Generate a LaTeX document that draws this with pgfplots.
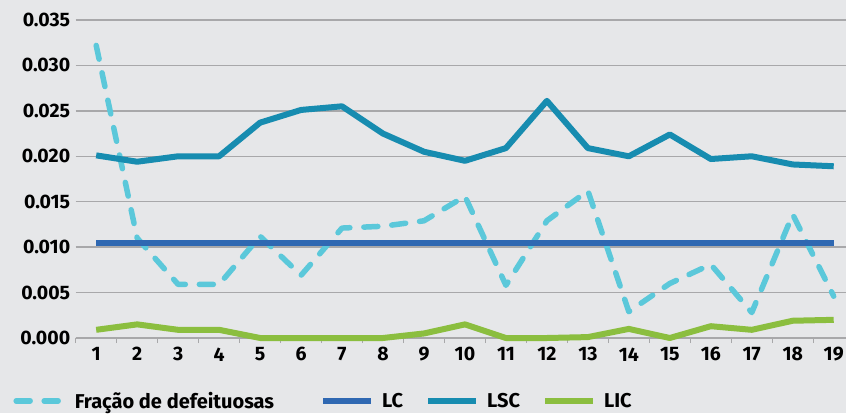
\documentclass[border=0pt]{standalone}
\usepackage{pgfplots}
\pgfplotsset{compat=1.18}
\usepackage{fontspec}
\setmainfont{Fira Sans}[UprightFont=* Bold]
\definecolor{bg}{HTML}{E6E7E9}
\definecolor{gridc}{HTML}{A8A8AA}
\definecolor{fracc}{HTML}{5BC8DA}
\definecolor{lcc}{HTML}{2F68B2}
\definecolor{lscc}{HTML}{178CB0}
\definecolor{licc}{HTML}{8BBE3F}

\pgfplotstableread{
x  frac    lc      lsc     lic
1  0.0322  0.0105  0.0201  0.0009
2  0.0110  0.0105  0.0194  0.0015
3  0.0059  0.0105  0.0200  0.0009
4  0.0059  0.0105  0.0200  0.0009
5  0.0112  0.0105  0.0237  0.0000
6  0.0069  0.0105  0.0251  0.0000
7  0.0121  0.0105  0.0255  0.0000
8  0.0123  0.0105  0.0225  0.0000
9  0.0129  0.0105  0.0205  0.0005
10 0.0156  0.0105  0.0195  0.0015
11 0.0058  0.0105  0.0209  0.0000
12 0.0129  0.0105  0.0261  0.0000
13 0.0162  0.0105  0.0209  0.0001
14 0.0029  0.0105  0.0200  0.0010
15 0.0060  0.0105  0.0224  0.0000
16 0.0081  0.0105  0.0197  0.0013
17 0.0028  0.0105  0.0200  0.0009
18 0.0136  0.0105  0.0191  0.0019
19 0.0046  0.0105  0.0189  0.0020
}\datatable

\begin{document}
\begin{tikzpicture}
\fill[bg] (0,0) rectangle (846pt,413pt);
\begin{axis}[
    at={(75.7pt,75pt)}, anchor=south west,
    scale only axis, width=770.3pt, height=338pt,
    xmin=0.5, xmax=19.3, ymin=0, ymax=0.0372,
    axis x line*=bottom, axis y line*=left,
    x axis line style={gridc, line width=1.5pt},
    y axis line style={draw=none},
    xtick={1,...,19}, major tick length=0pt,
    extra x ticks={0.5,1.5,...,18.5}, extra x tick labels={},
    extra x tick style={major tick length=5pt, tick align=outside, tick style={gridc, line width=1.2pt}},
    ytick={0,0.005,...,0.035},
    ymajorgrids, grid style={gridc, line width=1.5pt},
    scaled y ticks=false,
    /pgf/number format/assume math mode=true,
    yticklabel style={/pgf/number format/fixed, /pgf/number format/fixed zerofill, /pgf/number format/precision=3, xshift=-2pt},
    ticklabel style={font=\fontsize{19.5}{22}\selectfont},
    xticklabel style={yshift=-6pt},
    clip=false,
    legend columns=4,
    legend style={at={(-0.085,-0.186)}, anchor=west, draw=none, fill=none,
        font=\fontsize{20}{22}\selectfont,
        /tikz/every even column/.append style={column sep=20pt},
        /tikz/every odd column/.append style={column sep=6pt}},
    legend image code/.code={\draw[#1] (0pt,0pt) -- (48pt,0pt);},
    every axis plot/.append style={line join=round},
]
\addplot[fracc, line width=5.5pt, line cap=round, dash pattern=on 14pt off 14pt] table[x=x, y=frac] {\datatable};
\addlegendentry{Fração de defeituosas\kern24pt}
\addplot[lcc, line width=6pt] table[x=x, y=lc] {\datatable};
\addlegendentry{LC}
\addplot[lscc, line width=6pt] table[x=x, y=lsc] {\datatable};
\addlegendentry{LSC}
\addplot[licc, line width=6pt] table[x=x, y=lic] {\datatable};
\addlegendentry{LIC}
\end{axis}
\pgfresetboundingbox
\path (0,0) rectangle (846pt,413pt);
\end{tikzpicture}
\end{document}
